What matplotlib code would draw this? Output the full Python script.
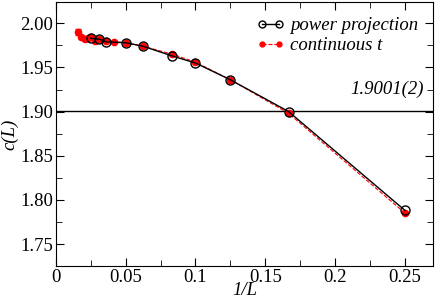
import numpy as np
import matplotlib.pyplot as plt
from matplotlib.lines import Line2D
from matplotlib.ticker import MultipleLocator

# power projection
pp_x = [1/4, 1/6, 1/8, 1/10, 1/12, 1/16, 1/20, 1/28, 1/32, 1/40]
pp_y = [1.788, 1.900, 1.936, 1.955, 1.963, 1.974, 1.978, 1.979, 1.982, 1.983]

# continuous t
ct_x = [1/4, 1/6, 1/8, 1/10, 1/12, 1/16, 1/20, 1/24, 1/28, 1/32, 1/36, 1/40, 1/44, 1/48, 1/56, 1/64]
ct_y = [1.785, 1.898, 1.936, 1.956, 1.965, 1.974, 1.978, 1.979, 1.980, 1.982, 1.980, 1.984, 1.983, 1.982, 1.985, 1.990]
ct_err = [0.0005, 0.0005, 0.0005, 0.0005, 0.0005, 0.0005, 0.0005, 0.0005, 0.0005, 0.0007, 0.0008, 0.001,
          0.0012, 0.0015, 0.002, 0.003]

c_inf = 1.9001
c_inf_label = "1.9001(2)"

plt.rcParams["font.family"] = ["Liberation Serif", "DejaVu Serif"]

fig = plt.figure(figsize=(4.36, 3.01), dpi=100)
ax = fig.add_axes([0.128, 0.116, 0.865, 0.877])

ax.axhline(c_inf, color="black", lw=1.0)

ax.plot(pp_x, pp_y, color="black", lw=1.0, marker="o", ms=6.5, mfc="none", mec="black",
        mew=1.0, zorder=4)
ax.errorbar(ct_x, ct_y, yerr=ct_err, color="red", ls="--", lw=0.8, marker="o", ms=4.5,
            capsize=2.5, elinewidth=1.2, zorder=3)

ax.set_xlim(0, 0.27)
ax.set_ylim(1.725, 2.024)
ax.set_xticks([0, 0.05, 0.1, 0.15, 0.2, 0.25])
ax.set_xticklabels(["0", "0.05", "0.1", "0.15", "0.2", "0.25"])
ax.xaxis.set_minor_locator(MultipleLocator(0.025))
ax.yaxis.set_major_locator(MultipleLocator(0.05))
ax.yaxis.set_minor_locator(MultipleLocator(0.025))
ax.tick_params(which="both", direction="in", top=True, right=True, labelsize=13.5, pad=2)
ax.tick_params(which="major", length=6)
ax.tick_params(which="minor", length=4)

ax.set_xlabel("1/L", fontsize=13.5, style="italic", labelpad=-3)
ax.set_ylabel("c(L)", fontsize=13.5, style="italic", labelpad=1)

ax.text(0.2635, 1.925, c_inf_label, fontsize=13.5, style="italic", ha="right", va="center")

# legend proxies (no error bars in the key)
pp_key = Line2D([], [], color="black", lw=1.0, marker="o", ms=5, mfc="none", mec="black")
ct_key = Line2D([], [], color="red", ls="--", lw=0.8, marker="o", ms=3.5)
ax.legend([pp_key, ct_key], ["power projection", "continuous t"], loc="upper right",
          frameon=False, prop={"style": "italic", "size": 13.5}, numpoints=2, handlelength=1.5,
          handletextpad=0.3, labelspacing=0.15, borderaxespad=0.4)

fig.savefig("out.png", dpi=100)
